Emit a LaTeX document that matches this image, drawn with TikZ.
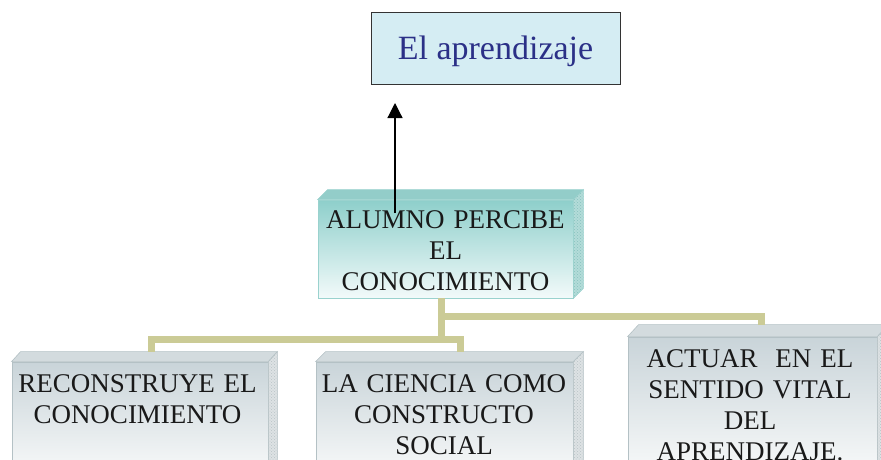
\documentclass[tikz,border=0pt]{standalone}
\usepackage{fontspec}
\setmainfont{Liberation Serif}
\usetikzlibrary{arrows.meta,patterns}
\definecolor{navy}{HTML}{2B3087}
\definecolor{titlefill}{HTML}{D5EDF3}
\definecolor{olivec}{HTML}{CBCB96}
\definecolor{tealtop}{HTML}{8ECFCB}
\definecolor{tealmid}{HTML}{CDEBE9}
\definecolor{tealbot}{HTML}{F2FAFA}
\definecolor{tealface}{HTML}{93CDC9}
\definecolor{tealside}{HTML}{B3DCD9}
\definecolor{tealdots}{HTML}{86C2BE}
\definecolor{tealedge}{HTML}{9AD2CE}
\definecolor{greytop}{HTML}{C9D4D9}
\definecolor{greymid}{HTML}{E3E9EB}
\definecolor{greybot}{HTML}{FAFBFB}
\definecolor{greyface}{HTML}{D3DBDE}
\definecolor{greyside}{HTML}{DDE2E4}
\definecolor{greydots}{HTML}{B9C3C6}
\definecolor{greyedge}{HTML}{B4C1C5}
\newcommand\myboxfaces[4]{%
  \filldraw[#4face] (#1.north west) -- ++(#2,-#3) -- ([shift={(#2,-#3)}]#1.north east) -- (#1.north east) -- cycle;
  \filldraw[#4side] (#1.north east) -- ++(#2,-#3) -- ([shift={(#2,-#3)}]#1.south east) -- (#1.south east) -- cycle;
}
\begin{document}
\begin{tikzpicture}[x=1pt,y=-1pt,
  titlebox/.style={draw=black!80, line width=1pt, fill=titlefill, minimum width=249pt, minimum height=72pt, inner sep=0pt, text depth=0pt, font=\fontsize{34}{40}\selectfont, text=navy},
  tealfront/.style={draw=tealedge, line width=0.8pt, top color=tealtop, middle color=tealmid, bottom color=tealbot, inner sep=0pt},
  tealface/.style={fill=tealface, draw=tealedge, line width=0.6pt},
  tealside/.style={fill=tealside, draw=tealedge, line width=0.6pt, postaction={pattern=crosshatch dots, pattern color=tealdots}},
  greyfront/.style={draw=greyedge, line width=0.8pt, top color=greytop, middle color=greymid, bottom color=greybot, inner sep=0pt},
  greyface/.style={fill=greyface, draw=greyedge, line width=0.6pt},
  greyside/.style={fill=greyside, draw=greyedge, line width=0.6pt, postaction={pattern=crosshatch dots, pattern color=greydots}},
  boxtext/.style={text width=270pt, align=center, inner sep=0pt, anchor=base, font=\fontsize{27}{31}\selectfont, text=black!90},
  conn/.style={draw=olivec, line width=7pt},
  arrowline/.style={draw=black, line width=1.2pt, -{Triangle[width=15pt,length=15pt]}}
]
\useasboundingbox (0,0) rectangle (881,459);
\clip (0,0) rectangle (881,459);
\fill[white] (0,0) rectangle (881,459);

% title
\node[titlebox] (apr) at (495.5,48) {El aprendizaje};

% middle box
\node[tealfront, minimum width=255pt, minimum height=98pt] (alumno) at (445.5,249) {};
\myboxfaces{alumno}{10}{10}{teal}

% bottom boxes
\node[greyfront, minimum width=256pt, minimum height=118pt] (b1) at (140,421) {};
\myboxfaces{b1}{9}{10}{grey}
\node[greyfront, minimum width=257pt, minimum height=118pt] (b2) at (444.5,421) {};
\myboxfaces{b2}{10}{10}{grey}
\node[greyfront, minimum width=249pt, minimum height=143pt] (b3) at (752.5,408.5) {};
\myboxfaces{b3}{11}{12}{grey}

% connectors
\coordinate (jl) at (441,339);
\coordinate (jr) at (441,316);
\coordinate (b1in) at (151,352);
\coordinate (b2in) at (460,352);
\coordinate (b3in) at (761,325);
\draw[conn] ([xshift=-4.5pt]alumno.south) -- (jl);
\draw[conn] (jl) -| (b1in);
\draw[conn] (jl) -| (b2in);
\draw[conn] (jr) -| (b3in);

% arrow
\coordinate (atail) at (395,213);
\coordinate (ahead) at (395,103);
\draw[arrowline] (atail) -- (ahead);

% texts
\node[boxtext] (alumnotxt) at (445.5,228) {ALUMNO PERCIBE\\EL\\CONOCIMIENTO};
\node[boxtext] (b1txt) at (137.5,392) {RECONSTRUYE EL\\CONOCIMIENTO};
\node[boxtext] (b2txt) at (444,392) {LA CIENCIA COMO\\CONSTRUCTO\\SOCIAL};
\node[boxtext] (b3txt) at (750,367) {ACTUAR\ \ EN EL\\SENTIDO VITAL\\DEL\\APRENDIZAJE.};
\end{tikzpicture}
\end{document}
